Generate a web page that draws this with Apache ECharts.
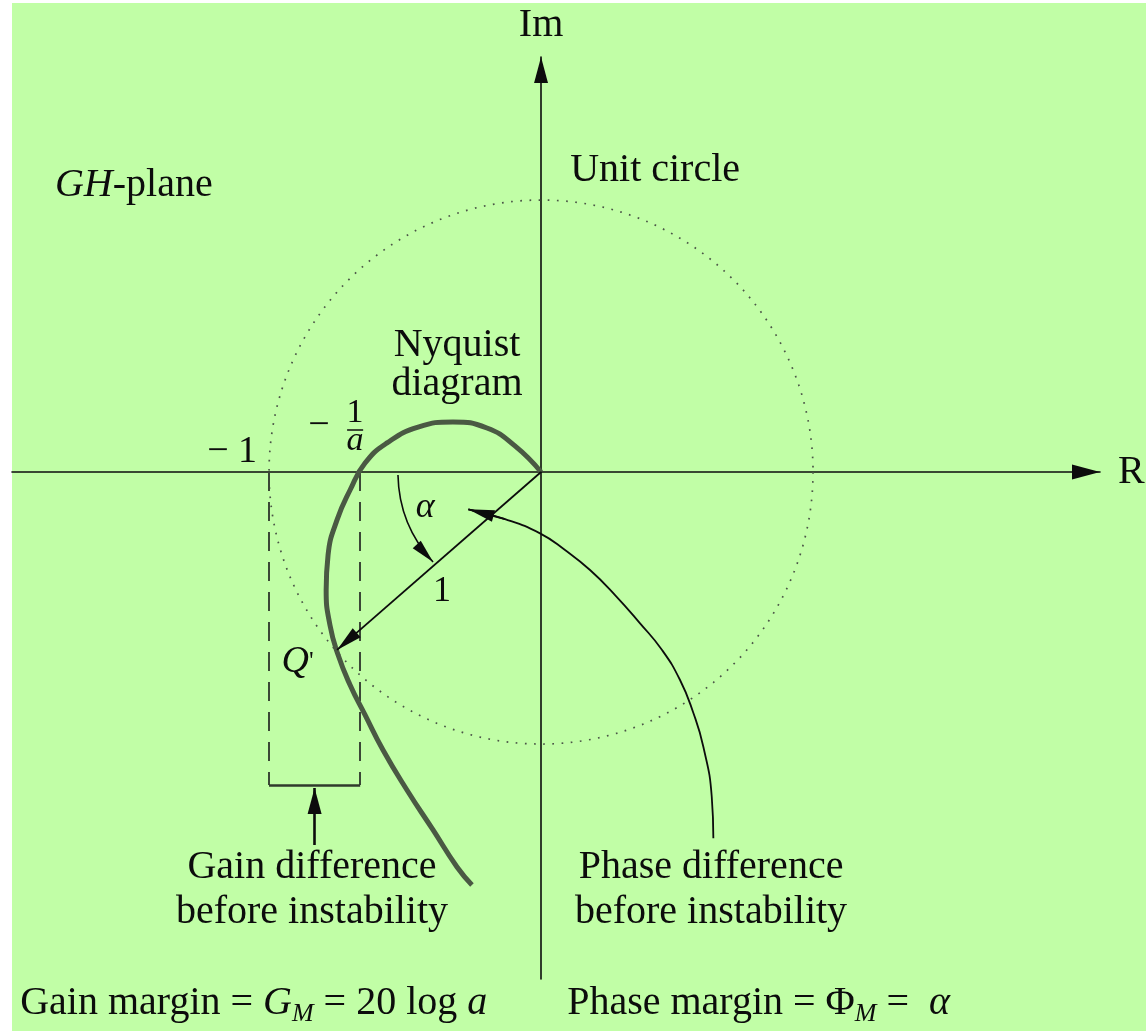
<!DOCTYPE html>
<html lang="en">

<head>
    <meta charset="UTF-8">
    <meta name="viewport" content="width=device-width, initial-scale=1.0">
    <title>Nyquist diagram - gain and phase margin</title>
    <script src="https://cdn.jsdelivr.net/npm/echarts@6/dist/echarts.min.js"></script>
    <style>
        html, body { margin: 0; padding: 0; background: #fff; }
        #main { width: 1146px; height: 1031px; }
    </style>
</head>

<body>
    <div id="main"></div>
    <script type="text/javascript">
        // Nyquist curve of GH (unit circle has radius 1)
        const nyquistRe = [0.000, -0.096, -0.199, -0.324, -0.452, -0.566, -0.647, -0.702, -0.750, -0.783,
            -0.790, -0.776, -0.746, -0.702, -0.647, -0.581, -0.493, -0.397, -0.309, -0.254];
        const nyquistIm = [0.000, 0.096, 0.162, 0.184, 0.165, 0.107, 0.033, -0.066, -0.176, -0.305,
            -0.434, -0.563, -0.673, -0.783, -0.893, -1.022, -1.169, -1.316, -1.452, -1.518];

        // unit circle: centre re, centre im, radius
        const unitCircle = [[0, 0, 1]];

        // where the curve crosses the real axis (-1/a) and the unit circle (Q)
        const minusOneOverA = -0.665;
        const pointQ = [-0.750, -0.654];
        const gainBoxBottom = -1.151;

        // gain-difference pointer (tail, tip)
        const gainArrow = [[-0.8325, -1.371], [-0.8325, -1.162]];
        // alpha arc (start, tip)
        const alphaArc = [[-0.526, -0.011], [-0.397, -0.331]];
        // phase-difference pointer, from the label up to the unit vector
        const phaseArrowRe = [0.6335, 0.6276, 0.5967, 0.5588, 0.5110, 0.4449, 0.3640, 0.2721, 0.1801,
            0.0882, -0.0037, -0.1324, -0.2673];
        const phaseArrowIm = [-1.3467, -1.1938, -1.0099, -0.8824, -0.7647, -0.6544, -0.5563, -0.4522,
            -0.3603, -0.2868, -0.2254, -0.1728, -0.1371];

        // axis extents (plane coordinates)
        const xMin = -1.945, xMax = 2.055;
        const yMin = -1.864, yMax = 1.526;

        const ink = '#0c0c0c';
        const curveInk = '#4a5943';
        const serif = '"Liberation Serif", "Times New Roman", serif';
        // triangle with its tip at the centre of its box, so the tip lands on the end point
        const tip = 'path://M0,-28M0,0L7.5,28L-7.5,28Z';

        const nyquist = nyquistRe.map((x, i) => [x, nyquistIm[i]]);
        const phaseArrow = phaseArrowRe.map((x, i) => [x, phaseArrowIm[i]]);

        // text notes, placed in plane coordinates
        const notes = [
            { name: '{i|GH}-plane', value: [-1.787, 1.055], label: { align: 'left' } },
            { name: 'Unit circle', value: [0.107, 1.110], label: { align: 'left' } },
            { name: 'Nyquist\ndiagram', value: [-0.309, 0.395], label: { lineHeight: 39 } },
            { name: '\u2212 1', value: [-1.044, 0.074], label: { align: 'right', fontSize: 38 } },
            { name: '\u2212', value: [-0.816, 0.169], label: { fontSize: 38 } },
            { name: '1', value: [-0.684, 0.217], label: { fontSize: 34 } },
            { name: '{i|a}', value: [-0.684, 0.114], label: { fontSize: 34 } },
            { name: '{i|\u03b1}', value: [-0.426, -0.132], label: { fontSize: 36 } },
            { name: '1', value: [-0.364, -0.441], label: { fontSize: 36 } },
            { name: '{i|Q}{p|\'}', value: [-0.895, -0.699], label: { fontSize: 38 } },
            { name: 'Gain difference\nbefore instability', value: [-0.842, -1.537], label: { lineHeight: 45 } },
            { name: 'Phase difference\nbefore instability', value: [0.625, -1.537], label: { lineHeight: 45 } },
            { name: '{n|Gain margin = }{ni|G}{s|M}{n| = 20 log }{ni|a}', value: [-1.915, -1.962], label: { align: 'left' } },
            { name: '{n|Phase margin = \u03a6}{s|M}{n| =  }{ni|\u03b1}', value: [0.096, -1.962], label: { align: 'left' } }
        ];

        const arrowLines = (name, coords, width, size, extra) => Object.assign({
            type: 'lines',
            name: name,
            coordinateSystem: 'cartesian2d',
            data: [{ coords: coords }],
            symbol: ['none', tip],
            symbolSize: [size, size],
            lineStyle: { color: ink, width: width, opacity: 1 },
            silent: true,
            z: 4
        }, extra || {});

        const options = {
            backgroundColor: '#ffffff',
            animation: false,
            graphic: [{
                type: 'rect', left: 12, top: 3, z: -100,
                shape: { width: 1134, height: 1028 },
                style: { fill: '#c1fea6' }
            }],
            grid: { left: 12, right: 46, top: 57, bottom: 52, containLabel: false, outerBoundsMode: 'none' },
            xAxis: {
                type: 'value', min: xMin, max: xMax,
                name: 'R', nameLocation: 'end', nameGap: 18,
                nameTextStyle: { fontFamily: serif, fontSize: 40, color: ink },
                axisLine: { onZero: true, symbol: ['none', tip], symbolSize: [15, 56], lineStyle: { color: ink, width: 1.6 } },
                axisTick: { show: false }, axisLabel: { show: false }, splitLine: { show: false }
            },
            yAxis: {
                type: 'value', min: yMin, max: yMax,
                name: 'Im', nameLocation: 'end', nameGap: 12,
                nameTextStyle: { fontFamily: serif, fontSize: 40, color: ink },
                axisLine: { onZero: true, symbol: ['none', tip], symbolSize: [15, 52], lineStyle: { color: ink, width: 1.6 } },
                axisTick: { show: false }, axisLabel: { show: false }, splitLine: { show: false }
            },
            series: [
                {
                    type: 'custom',
                    name: 'Unit circle',
                    data: unitCircle,
                    silent: true,
                    z: 1,
                    renderItem: (params, api) => {
                        const c = api.coord([api.value(0), api.value(1)]);
                        const r = api.size([api.value(2), 0])[0];
                        return {
                            type: 'circle',
                            shape: { cx: c[0], cy: c[1], r: r },
                            style: { fill: 'none', stroke: '#4b5547', lineWidth: 1.7, lineDash: [1.7, 7.5] }
                        };
                    }
                },
                {
                    type: 'lines',
                    name: 'Gain box sides',
                    coordinateSystem: 'cartesian2d',
                    data: [
                        { coords: [[-1, 0], [-1, gainBoxBottom]] },
                        { coords: [[minusOneOverA, 0], [minusOneOverA, gainBoxBottom]] }
                    ],
                    lineStyle: { color: '#3b4836', width: 2, type: [19, 11], opacity: 1 },
                    silent: true,
                    z: 2
                },
                {
                    type: 'lines',
                    name: 'Gain box bottom',
                    coordinateSystem: 'cartesian2d',
                    data: [{ coords: [[-1, gainBoxBottom], [minusOneOverA, gainBoxBottom]] }],
                    lineStyle: { color: '#2f3a2b', width: 2.5, opacity: 1 },
                    silent: true,
                    z: 2
                },
                {
                    type: 'line',
                    name: 'Nyquist diagram',
                    data: nyquist,
                    smooth: 0.5,
                    symbol: 'none',
                    lineStyle: { color: curveInk, width: 5 },
                    silent: true,
                    z: 3
                },
                {
                    type: 'line',
                    name: 'Phase difference',
                    data: phaseArrow,
                    smooth: 0.5,
                    symbol: 'none',
                    lineStyle: { color: ink, width: 1.8 },
                    silent: true,
                    z: 4
                },
                // arrowhead of the phase pointer: its last stretch
                arrowLines('Phase difference tip', phaseArrow.slice(-2), 1.8, [12, 52]),
                arrowLines('Unit vector', [[0, 0], pointQ], 1.8, [12, 52]),
                arrowLines('Gain difference', gainArrow, 2.6, [14, 52]),
                arrowLines('Alpha', alphaArc, 1.6, [11, 48], { lineStyle: { color: ink, width: 1.6, opacity: 1, curveness: -0.19 } }),
                {
                    type: 'lines',
                    name: 'Fraction bar',
                    coordinateSystem: 'cartesian2d',
                    data: [{ coords: [[-0.713, 0.156], [-0.654, 0.156]] }],
                    lineStyle: { color: ink, width: 1.6, opacity: 1 },
                    silent: true,
                    z: 4
                },
                {
                    type: 'scatter',
                    name: 'Notes',
                    data: notes,
                    symbolSize: 0,
                    clip: false,
                    silent: true,
                    itemStyle: { opacity: 1 },
                    z: 5,
                    label: {
                        show: true,
                        position: 'inside',
                        formatter: (p) => p.name,
                        fontFamily: serif,
                        fontSize: 40,
                        color: ink,
                        opacity: 1,
                        textBorderWidth: 0,
                        rich: {
                            i: { fontFamily: serif, fontStyle: 'italic', color: ink },
                            p: { fontFamily: serif, fontSize: 26, color: ink },
                            n: { fontFamily: serif, fontSize: 40, lineHeight: 44, verticalAlign: 'top', color: ink },
                            ni: { fontFamily: serif, fontSize: 40, fontStyle: 'italic', lineHeight: 44, verticalAlign: 'top', color: ink },
                            s: { fontFamily: serif, fontSize: 26, fontStyle: 'italic', lineHeight: 16, verticalAlign: 'bottom', color: ink }
                        }
                    }
                }
            ]
        };

        let myChart = echarts.init(document.getElementById('main'));
        myChart.setOption(options);
    </script>
</body>

</html>
